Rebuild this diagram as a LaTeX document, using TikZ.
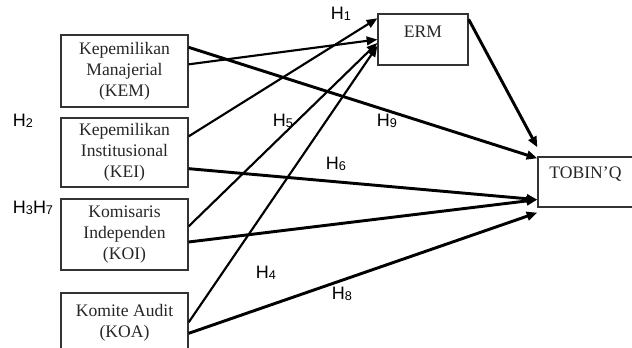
\documentclass[tikz,border=0pt]{standalone}
\usepackage{fontspec}
\setmainfont{Liberation Serif}
\setsansfont{Liberation Sans}
\usetikzlibrary{arrows.meta,calc}

\tikzset{every picture/.style={line width=0.75pt}}
\newcommand{\hyp}[1]{H\raisebox{-0.8pt}{\fontsize{9.5}{10}\selectfont #1}}

\begin{document}
\begin{tikzpicture}[x=0.75pt,y=0.75pt,yscale=-1,xscale=1,
	box/.style={draw=black!80, line width=1pt, align=center, inner sep=2pt, text=black!85, font=\fontsize{13.2}{15.75}\selectfont},
	hlabel/.style={inner sep=0pt, font=\sffamily\fontsize{13.5}{15}\selectfont},
	arr/.style={line width=1.6pt, -{Triangle[length=8pt,width=6.5pt]}},
	arrthick/.style={arr, line width=2.2pt}]
	\useasboundingbox (0,0) rectangle (632,348);
	
	%Shape: Rectangle [KEM]
	\node[box, minimum width=95.25pt, minimum height=54pt] (kem) at (124.5,71) {Kepemilikan\\Manajerial\\(KEM)};
	%Shape: Rectangle [KEI]
	\node[box, minimum width=95.25pt, minimum height=51.75pt] (kei) at (124.5,152.5) {Kepemilikan\\Institusional\\(KEI)};
	%Shape: Rectangle [KOI]
	\node[box, minimum width=95.25pt, minimum height=53.25pt] (koi) at (124.5,234.5) {Komisaris\\Independen\\(KOI)};
	%Shape: Rectangle [KOA]
	\node[box, minimum width=95.25pt, minimum height=53.25pt, text depth=12pt] (koa) at (124.5,328.5) {Komite Audit\\(KOA)};
	%Shape: Rectangle [ERM]
	\node[box, minimum width=67.5pt, minimum height=38.25pt, text height=8.6pt, text depth=11.2pt] (erm) at (423,39.5) {ERM};
	%Shape: Rectangle [TOBIN'Q]
	\node[box, minimum width=71.25pt, minimum height=37.5pt, text height=8.6pt, text depth=13.5pt] (tobin) at (585.5,182) {TOBIN'Q};
	
	% Text Node
	\node[hlabel] (h1) at (341,14) {\hyp{1}};
	% Text Node
	\node[hlabel] (h2) at (23,121) {\hyp{2}};
	% Text Node
	\node[hlabel] (h37) at (33,208) {\hyp{3}\hyp{7}};
	% Text Node
	\node[hlabel] (h5) at (283,121) {\hyp{5}};
	% Text Node
	\node[hlabel] (h9) at (387,121) {\hyp{9}};
	% Text Node
	\node[hlabel] (h6) at (336,164) {\hyp{6}};
	% Text Node
	\node[hlabel] (h4) at (266,273) {\hyp{4}};
	% Text Node
	\node[hlabel] (h8) at (342,294) {\hyp{8}};
	
	% Connection
	\draw[arr] ($(kem.north east)+(0,30)$) -- (erm.west);
	% Connection
	\draw[arr] ($(kei.north east)+(0,19)$) -- ($(erm.north west)+(0,5)$);
	% Connection
	\draw[arr] ($(koi.north east)+(0,28)$) -- ($(erm.west)+(0,3.5)$);
	% Connection
	\draw[arr] ($(koa.north east)+(0,30)$) -- ($(erm.west)+(0,6.5)$);
	% Connection
	\draw[arrthick] ($(kem.north east)+(0,13)$) -- ($(tobin.north west)+(0,2)$);
	% Connection
	\draw[arrthick] ($(kei.south east)+(0,-19)$) -- ($(tobin.south west)+(0,-8)$);
	% Connection
	\draw[arrthick] ($(koi.east)+(0,7.5)$) -- ($(tobin.south west)+(0,-8)$);
	% Connection
	\draw[arrthick] ($(koa.north east)+(0,41)$) -- ($(tobin.south west)+(0,5)$);
	% Connection
	\draw[arrthick] ($(erm.north east)+(0,6)$) -- ($(tobin.north west)+(0,-9)$);
	
\end{tikzpicture}
\end{document}
